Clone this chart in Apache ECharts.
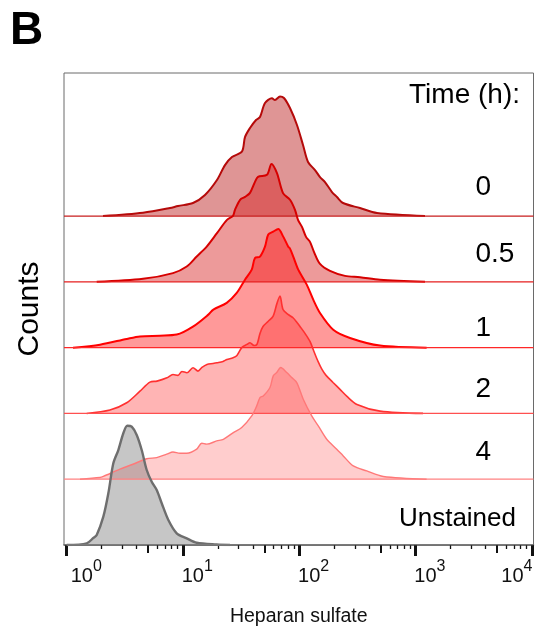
<!DOCTYPE html>
<html>
<head>
<meta charset="utf-8">
<script src="https://cdn.jsdelivr.net/npm/echarts@6/dist/echarts.min.js"></script>
<style>
html,body{margin:0;padding:0;background:#fff;}
#chart{width:536px;height:633px;}
</style>
</head>
<body>
<div id="chart"></div>
<script>
// ---- DATA (x: log10 Heparan sulfate intensity, y: % of mode) ----
const timeLabels = ['0', '0.5', '1', '2', '4', 'Unstained'];
const tickExponents = [0, 1, 2, 3, 4];

const logX_0h = [0.312,0.656,0.888,0.957,1.086,1.189,1.292,1.361,1.421,1.507,1.533,1.576,1.628,1.662,1.705,1.765,1.791,1.834,1.868,1.920,1.980,2.032,2.075,2.135,2.178,2.221,2.281,2.324,2.376,2.522,2.668,3.081];
const pct_0h  = [0,2.8,6.7,8.4,10.9,17.6,30.1,42.6,49.3,54,66,73.6,80.3,82.8,94.5,98.4,97,100,98.7,90.3,76.1,59.4,45.2,38.5,32.6,28.4,20.1,15.9,10.9,6.7,2.5,0];

const logX_05h = [0.258,0.656,0.914,1.032,1.118,1.204,1.292,1.378,1.430,1.447,1.491,1.533,1.576,1.619,1.645,1.722,1.761,1.808,1.860,1.920,1.963,1.989,2.023,2.058,2.092,2.126,2.178,2.264,2.393,2.522,2.694,3.081];
const pct_05h  = [0,2.5,7.3,12.8,21.2,29.5,40.7,51.8,55.2,60.2,68.6,71,74.4,83.6,87.8,89.5,98.6,90.9,74.2,68.6,60.2,51.8,46,37.6,33.4,25.1,15,9.2,5,3.9,1.7,0];

const logX_1h = [0.054,0.286,0.516,0.630,0.802,0.946,1.089,1.218,1.261,1.376,1.462,1.533,1.591,1.619,1.662,1.705,1.733,1.776,1.819,1.862,1.905,1.920,1.948,1.991,2.064,2.120,2.178,2.292,2.436,2.694,3.095];
const pct_1h  = [0,2.5,7.3,9.4,10,10.9,17.8,27.6,31.8,37.4,45.7,56.8,65.2,75,76.1,84.4,94.5,97,99.2,92.8,84.4,82.8,76.1,65.2,52.7,40.1,29,15,8.1,1.7,0];

const logX_2h = [0.172,0.372,0.516,0.630,0.716,0.776,0.862,0.914,0.957,0.991,1.034,1.086,1.129,1.163,1.206,1.258,1.292,1.344,1.378,1.430,1.464,1.507,1.550,1.576,1.611,1.636,1.662,1.688,1.731,1.774,1.808,1.834,1.860,1.903,1.946,1.980,2.006,2.049,2.092,2.126,2.161,2.195,2.230,2.290,2.350,2.410,2.496,2.694,3.064];
const pct_2h  = [0,2.8,8.9,18.6,26.2,27,29.8,32.6,31.8,35.1,34,38.2,35.4,38.5,41,41.8,42.4,43.5,45.1,46.6,48.5,55.2,57.7,59.1,56.8,57.7,66.9,72.7,76.9,81.1,92,98.1,86.9,82.8,80,76.1,72.7,66.9,60.2,51.8,43.5,36.8,31.8,25.9,20.1,14.2,7.5,1.9,0];

const logX_4h = [0.114,0.286,0.315,0.458,0.570,0.688,0.774,0.860,0.914,0.974,1.032,1.118,1.161,1.204,1.290,1.347,1.433,1.505,1.591,1.634,1.662,1.690,1.748,1.776,1.806,1.840,1.892,1.935,1.978,2.034,2.107,2.163,2.236,2.322,2.378,2.464,2.580,2.722,3.095];
const pct_4h  = [0,1.4,2.3,8.4,12.5,17.1,18.1,20.9,22.8,21.7,21.7,25.1,30.1,29.3,32,33.4,39,43.2,52.9,61.3,68.3,69.6,76.7,86.4,89.2,93.4,89.2,85,80.8,66.9,52.9,44.6,33.4,25.1,19.5,11.1,6.9,2.3,0];

const logX_unst = [0,0.172,0.229,0.258,0.315,0.358,0.401,0.444,0.487,0.521,0.559,0.602,0.645,0.688,0.731,0.774,0.817,0.874,0.946,1.032,1.118,1.290,1.404];
const pct_unst  = [0,1.4,5.9,8.4,23.7,43.2,68.3,79.4,93.4,99.7,98.9,92,79.4,62.7,52.9,46,34.9,20.9,9.8,5.6,1.9,0.4,0];

// ---- LAYOUT / STYLE ----
const ROW = 55;               // vertical offset between ridges (in % units)
const Y_MAX = 394.6;
const X_MIN = -0.0232, X_MAX = 4.0138;
const FONT = '"Liberation Sans", Arial, Helvetica, sans-serif';

const ridges = [
  {x: logX_0h,  y: pct_0h,  off: 5, line: '#b50a0a', base: '#c81e1e', area: 'rgba(185,20,20,0.45)', w: 2},
  {x: logX_05h, y: pct_05h, off: 4, line: '#d60000', base: '#e61e1e', area: 'rgba(215,30,30,0.45)', w: 2},
  {x: logX_1h,  y: pct_1h,  off: 3, line: '#ff0000', base: '#ff2828', area: 'rgba(255,0,0,0.40)',   w: 2},
  {x: logX_2h,  y: pct_2h,  off: 2, line: '#ff3030', base: '#ff5050', area: 'rgba(255,40,40,0.35)', w: 1.6},
  {x: logX_4h,  y: pct_4h,  off: 1, line: '#ff7878', base: '#ff8282', area: 'rgba(255,60,60,0.26)', w: 1.4},
  {x: logX_unst,y: pct_unst,off: 0, line: '#6e6e6e', base: '#888888', area: 'rgba(120,120,120,0.42)', w: 2.4}
];

const series = [];
ridges.forEach(r => {
  const base = r.off * ROW;
  series.push({
    type: 'line',
    data: r.x.map((v, i) => [v, base + r.y[i]]),
    showSymbol: false, symbol: 'none',
    smooth: 0.3,
    lineStyle: {color: r.line, width: r.w},
    itemStyle: {color: r.line},
    areaStyle: {color: r.area, origin: base, opacity: 1}
  });
  series.push({
    type: 'line',
    data: [[X_MIN, base], [X_MAX, base]],
    showSymbol: false, symbol: 'none',
    lineStyle: {color: r.base, width: 1.2},
    itemStyle: {color: r.base}
  });
});

const minorVals = [], midVals = [];
for (let k = 0; k < 4; k++) {
  [2,3,4,6,7,8,9].forEach(m => minorVals.push(k + Math.log10(m)));
  midVals.push(k + Math.log10(5));
}

const W = 31;
function tickLabel(v) {
  const e = Math.round(v);
  if (e === 0) return '{sp0| }{b|10}{s|' + e + '}';
  if (e === 4) return '{b|10}{s|' + e + '}{sp4| }';
  return '{sp| }{b|10}{s|' + e + '}';
}

const baseAxis = {
  type: 'value', min: X_MIN, max: X_MAX, position: 'bottom', offset: 0, gridIndex: 0,
  splitLine: {show: false}
};

const option = {
  animation: false,
  backgroundColor: '#fff',
  grid: {left: 64, right: 2.5, top: 73, bottom: 88, show: true, borderColor: '#6a6a6a', borderWidth: 1,
         backgroundColor: 'transparent', containLabel: false, outerBoundsMode: 'none'},
  xAxis: [
    Object.assign({}, baseAxis, {
      name: 'Heparan sulfate', nameLocation: 'middle', nameGap: 62,
      nameTextStyle: {fontFamily: FONT, fontSize: 19.5, color: '#111'},
      axisLine: {show: true, lineStyle: {color: '#555', width: 1.5}},
      axisTick: {show: true, customValues: tickExponents, length: 11, lineStyle: {color: '#111', width: 3}},
      axisLabel: {
        show: true, customValues: tickExponents, margin: 14, formatter: tickLabel,
        rich: {
          b: {fontFamily: FONT, fontSize: 20, lineHeight: 34, color: '#111'},
          s: {fontFamily: FONT, fontSize: 16, lineHeight: 17, verticalAlign: 'top', color: '#111'},
          sp: {width: W - 2.4},
          sp0: {width: W + 8.2},
          sp4: {width: W - 1}
        }
      }
    }),
    Object.assign({}, baseAxis, {
      axisLine: {show: false},
      axisTick: {show: true, customValues: midVals, length: 8, lineStyle: {color: '#111', width: 2}},
      axisLabel: {show: false}
    }),
    Object.assign({}, baseAxis, {
      axisLine: {show: false},
      axisTick: {show: true, customValues: minorVals, length: 4, lineStyle: {color: '#111', width: 1.3}},
      axisLabel: {show: false}
    })
  ],
  yAxis: {
    type: 'value', min: 0, max: Y_MAX,
    axisLine: {show: false}, axisTick: {show: false}, axisLabel: {show: false}, splitLine: {show: false},
    name: 'Counts', nameLocation: 'middle', nameGap: 19,
    nameTextStyle: {fontFamily: FONT, fontSize: 30, color: '#000'}
  },
  series: series,
  graphic: [
    {type: 'text', left: 10, top: 8, style: {text: 'B', font: 'bold 46px ' + FONT, fill: '#000'}},
    {type: 'text', x: 520, y: 95, style: {text: 'Time (h):', font: '28px ' + FONT, fill: '#000', textAlign: 'right', textVerticalAlign: 'middle'}},
    {type: 'text', x: 475.5, y: 187, style: {text: timeLabels[0], font: '28px ' + FONT, fill: '#000', textAlign: 'left', textVerticalAlign: 'middle'}},
    {type: 'text', x: 475.5, y: 254, style: {text: timeLabels[1], font: '28px ' + FONT, fill: '#000', textAlign: 'left', textVerticalAlign: 'middle'}},
    {type: 'text', x: 475.5, y: 328, style: {text: timeLabels[2], font: '28px ' + FONT, fill: '#000', textAlign: 'left', textVerticalAlign: 'middle'}},
    {type: 'text', x: 475.5, y: 389, style: {text: timeLabels[3], font: '28px ' + FONT, fill: '#000', textAlign: 'left', textVerticalAlign: 'middle'}},
    {type: 'text', x: 475.5, y: 452, style: {text: timeLabels[4], font: '28px ' + FONT, fill: '#000', textAlign: 'left', textVerticalAlign: 'middle'}},
    {type: 'text', x: 516, y: 519, style: {text: timeLabels[5], font: '26px ' + FONT, fill: '#000', textAlign: 'right', textVerticalAlign: 'middle'}}
  ]
};

const chart = echarts.init(document.getElementById('chart'), null, {renderer: 'canvas'});
chart.setOption(option);
</script>
</body>
</html>
